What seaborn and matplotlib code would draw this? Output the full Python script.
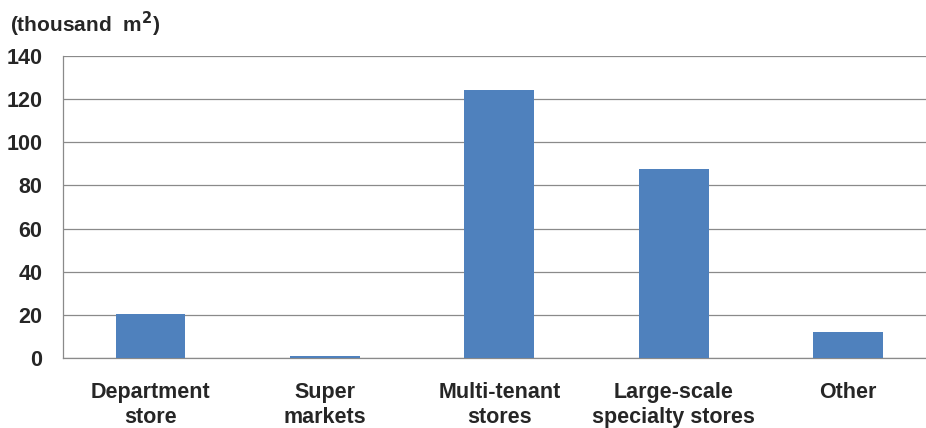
import matplotlib
matplotlib.use("Agg")
import matplotlib.pyplot as plt
from matplotlib.ticker import FixedLocator
import seaborn as sns
import pandas as pd

# Retail floor space by store type
categories = ["Department\nstore", "Super\nmarkets", "Multi-tenant\nstores",
              "Large-scale\nspecialty stores", "Other"]
floor_space = [20.4, 0.9, 124.2, 87.5, 11.9]
y_ticks = [0, 20, 40, 60, 80, 100, 120, 140]

sns.set_theme(style="white")
plt.rcParams["font.family"] = ["Liberation Sans", "DejaVu Sans"]
plt.rcParams["font.weight"] = "bold"

df = pd.DataFrame({"category": categories, "value": floor_space})

W, H = 926, 428
PX = 72 / 100  # points per pixel at 100 dpi
fig = plt.figure(figsize=(W / 100, H / 100), dpi=100)
ax = fig.add_axes([63.3 / W, 1 - 358 / H, 872 / W, (358 - 56) / H])

grid_color = "#8a8a8a"
lw = 0.9
sns.barplot(data=df, x="category", y="value", color="#4F81BD", width=0.4,
            saturation=1, linewidth=0, ax=ax, zorder=3)

ax.set_xlim(-0.5, len(categories) - 0.5)
ax.set_ylim(0, 140)
ax.set_yticks(y_ticks)
ax.set_yticklabels([str(t) for t in y_ticks], fontsize=15.5, fontweight="bold")
ax.yaxis.grid(True, color=grid_color, linewidth=lw, zorder=0)
ax.set_axisbelow(True)

ax.set_xlabel("")
ax.set_ylabel("")
ax.set_xticks(range(len(categories)))
ax.set_xticklabels(categories, fontsize=15.5, fontweight="bold", linespacing=1.27)
ax.tick_params(axis="x", which="major", length=0, pad=24 * PX)
ax.xaxis.set_minor_locator(FixedLocator([i - 0.5 for i in range(len(categories) + 1)]))
ax.tick_params(axis="x", which="minor", length=7 * PX, width=lw, color=grid_color,
               direction="out")
ax.tick_params(axis="y", which="major", length=6 * PX, width=lw, color=grid_color,
               direction="out", pad=15 * PX)

for side in ["top", "right"]:
    ax.spines[side].set_visible(False)
for side in ["left", "bottom"]:
    ax.spines[side].set_color(grid_color)
    ax.spines[side].set_linewidth(lw)

fig.text(10 / W, 1 - 24 / H, "(thousand  m$^{\\mathbf{2}}$)", fontsize=15,
         fontweight="bold", va="center", ha="left")

fig.savefig("out.png", dpi=100)
